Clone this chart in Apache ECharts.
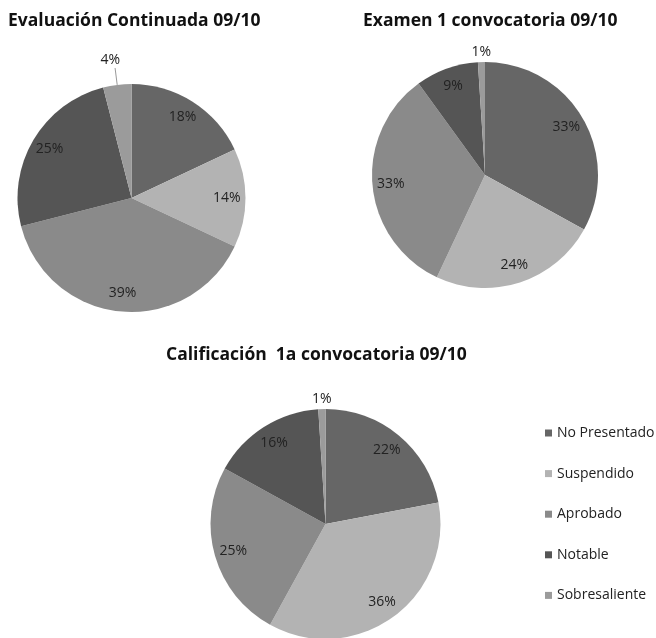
<!DOCTYPE html>
<html>
<head>
<meta charset="utf-8">
<script src="https://cdn.jsdelivr.net/npm/echarts@6/dist/echarts.min.js"></script>
<style>
html,body{margin:0;padding:0;background:#fff;}
#chart{width:656px;height:638px;}
</style>
</head>
<body>
<div id="chart"></div>
<script>
var categories = ['No Presentado', 'Suspendido', 'Aprobado', 'Notable', 'Sobresaliente'];
var colors = ['#666666', '#b3b3b3', '#8a8a8a', '#555555', '#9b9b9b'];
var titles = ['Evaluación Continuada 09/10', 'Examen 1 convocatoria 09/10', 'Calificación  1a convocatoria 09/10'];
var evalContinuada = [18, 14, 39, 25, 4];
var examen1 = [33, 24, 33, 9, 1];
var calificacion1 = [22, 36, 25, 16, 1];

var pies = [
  {title: titles[0], values: evalContinuada, center: [131.5, 198], r: 114, titlePos: {left: 8, top: 12}, line: true},
  {title: titles[1], values: examen1, center: [485, 175], r: 113, titlePos: {left: 363, top: 12}, line: false},
  {title: titles[2], values: calificacion1, center: [325.5, 524], r: 115, titlePos: {left: 166, top: 346}, line: false}
];

var FONT = 'Open Sans';
var series = [];
var titleOpts = [];
pies.forEach(function (p, idx) {
  titleOpts.push({
    text: p.title,
    left: p.titlePos.left,
    top: p.titlePos.top,
    padding: 0,
    textStyle: {fontFamily: FONT, fontSize: 17.5, fontWeight: 'bold', color: '#111'}
  });
  var mainData = p.values.map(function (v, i) {
    var small = v < 5;
    return {
      name: categories[i],
      value: v,
      label: {show: small},
      labelLine: {show: small && p.line}
    };
  });
  var s = {
    type: 'pie',
    center: p.center,
    radius: p.r,
    startAngle: 90,
    clockwise: true,
    silent: true,
    avoidLabelOverlap: false,
    itemStyle: {borderWidth: 0},
    label: {
      position: 'outside',
      formatter: '{c}%',
      fontFamily: FONT, fontSize: 14, color: '#222'
    },
    data: mainData
  };
  if (p.line) {
    s.label.distanceToLabelLine = -5;
    s.labelLine = {show: true, length: 17, length2: 0, lineStyle: {color: '#999', width: 1}};
    s.labelLayout = function () {
      return {dy: -8};
    };
  } else {
    s.label.distanceToLabelLine = 0;
    s.labelLine = {show: false, length: 3, length2: 0};
    s.labelLayout = function () {
      return {align: 'center', verticalAlign: 'bottom'};
    };
  }
  series.push(s);
  var overlayData = p.values.map(function (v, i) {
    return {name: categories[i], value: v, label: {show: v >= 5}};
  });
  series.push({
    type: 'pie',
    center: p.center,
    radius: [p.r * 0.62, p.r],
    startAngle: 90,
    clockwise: true,
    silent: true,
    legendHoverLink: false,
    itemStyle: {color: 'rgba(0,0,0,0)', borderWidth: 0},
    label: {position: 'inside', formatter: '{c}%', fontFamily: FONT, fontSize: 14, color: '#222'},
    labelLine: {show: false},
    data: overlayData
  });
});

var chart = echarts.init(document.getElementById('chart'), null, {renderer: 'canvas'});
chart.setOption({
  animation: false,
  backgroundColor: '#ffffff',
  color: colors,
  title: titleOpts,
  legend: {
    data: categories,
    orient: 'vertical',
    left: 545,
    top: 426,
    padding: 0,
    icon: 'rect',
    itemWidth: 7,
    itemHeight: 7,
    itemGap: 26.6,
    selectedMode: false,
    textStyle: {fontFamily: FONT, fontSize: 14, color: '#222', lineHeight: 14}
  },
  series: series
});
</script>
</body>
</html>
